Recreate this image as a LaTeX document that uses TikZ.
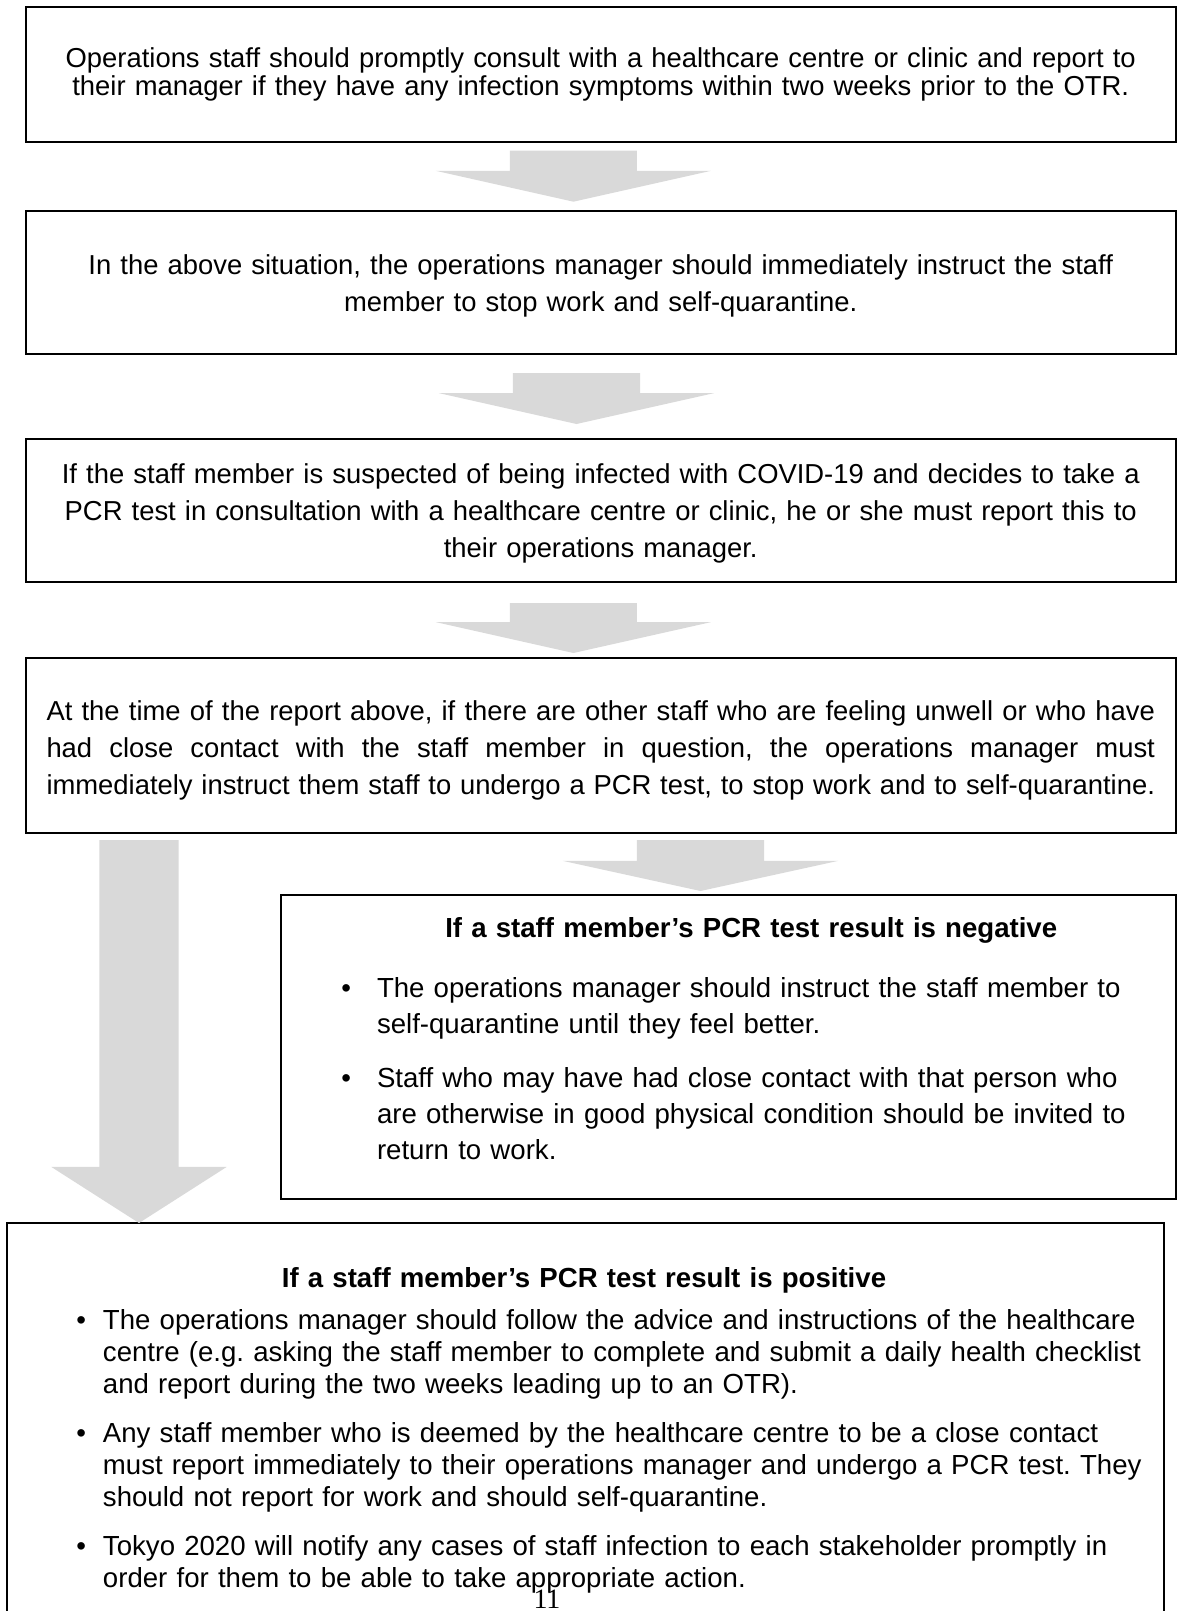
\documentclass[tikz,border=0pt]{standalone}
\usepackage{fontspec}
\setmainfont{Liberation Sans}
\newfontfamily\pagenofont{Liberation Serif}
\usetikzlibrary{shapes,arrows,positioning}
\frenchspacing
\definecolor{flowcol}{HTML}{D9D9D9}
\definecolor{framecol}{HTML}{000000}
\newcommand{\justline}[1]{\leavevmode\hbox to 1108.5pt{\spaceskip=0.278em plus 0.6em minus 0.1em\relax #1}}
\tikzstyle{flowarrow} = [single arrow, fill=flowcol, rotate=-90, anchor=tail, inner xsep=0pt, outer sep=0pt, minimum width=0pt, single arrow head indent=0pt]
\tikzstyle{pageno} = [font=\pagenofont\fontsize{28}{28}\selectfont, inner sep=0pt]
\tikzset{
  stepbox/.style = {
    shape = rectangle,
    draw = framecol,
    line width = 2pt,
    inner sep = 0pt,
    outer sep = 0pt,
    font = \fontsize{27.4}{37}\selectfont,
    },
  plainstep/.style = {
    stepbox,
    text width = 1149.5pt,
    align = center,
    },
  resultbox/.style = {
    stepbox,
    anchor = north west,
    font = \fontsize{27.6}{#1}\selectfont,
    },
}

\begin{document}
\begin{tikzpicture}[x=1pt,y=-1pt]
    \useasboundingbox (0,0) rectangle (1177,1611);

    % steps
    \node[plainstep, font=\fontsize{27.4}{28.5}\selectfont, text height=60pt, text depth=75pt, anchor=north west] (symptoms) at (26,7)
        {Operations staff should promptly consult with a healthcare centre or clinic and report to\\
         their manager if they have any infection symptoms within two weeks prior to the OTR.};
    \node[plainstep, text height=63.5pt, text depth=80pt, below=68.5pt of symptoms] (quarantine)
        {In the above situation, the operations manager should immediately instruct the staff\\
         member to stop work and self-quarantine.};
    \node[plainstep, text height=44.7pt, text depth=98.7pt, below=84.6pt of quarantine] (pcrtest)
        {If the staff member is suspected of being infected with COVID-19 and decides to take a\\
         PCR test in consultation with a healthcare centre or clinic, he or she must report this to\\
         their operations manager.};
    \node[stepbox, inner xsep=20.5pt, text width=1108.5pt, text height=62pt, text depth=113pt, below=76pt of pcrtest] (contacts)
        {\justline{At the time of the report above, if there are other staff who are feeling unwell or who have}\\
         \justline{had close contact with the staff member in question, the operations manager must}\\
         \justline{immediately instruct them staff to undergo a PCR test, to stop work and to self-quarantine.}\par};

    % results
    \node[resultbox=36, text width=895pt, text height=42pt, text depth=262pt, below=62pt of contacts.south east, anchor=north east] (negative) {%
        \leftskip=96.5pt \rightskip=0pt plus 1fil
        \hfill\textbf{If a staff member’s PCR test result is negative}\hfill\hspace*{50pt}\null\\[24pt]
        \leavevmode\llap{\textbullet\hskip 26pt}The operations manager should instruct the staff member to\\
        self-quarantine until they feel better.\\[18pt]
        \leavevmode\llap{\textbullet\hskip 26pt}Staff who may have had close contact with that person who\\
        are otherwise in good physical condition should be invited to\\
        return to work.\par};
    \node[resultbox=32, text width=1157pt, text height=64pt, text depth=450pt] (positive) at (7,1223) {%
        \leftskip=96pt \rightskip=0pt plus 1fil
        \hfill\textbf{If a staff member’s PCR test result is positive}\hfill\hspace*{99pt}\null\\[10pt]
        \leavevmode\llap{\textbullet\hskip 17pt}The operations manager should follow the advice and instructions of the healthcare\\
        centre (e.g. asking the staff member to complete and submit a daily health checklist\\
        and report during the two weeks leading up to an OTR).\\[17pt]
        \leavevmode\llap{\textbullet\hskip 17pt}Any staff member who is deemed by the healthcare centre to be a close contact\\
        must report immediately to their operations manager and undergo a PCR test. They\\
        should not report for work and should self-quarantine.\\[17pt]
        \leavevmode\llap{\textbullet\hskip 17pt}Tokyo 2020 will notify any cases of staff infection to each stakeholder promptly in\\
        order for them to be able to take appropriate action.\par};

    % arrows
    \node[flowarrow, inner ysep=63.35pt, minimum height=51pt, single arrow head extend=74pt, single arrow tip angle=154.7]
        (a1) at ([xshift=-27.35pt,yshift=-8.7pt]symptoms.south) {};
    \node[flowarrow, inner ysep=63.35pt, minimum height=51pt, single arrow head extend=74pt, single arrow tip angle=154.7]
        (a2) at ([xshift=-24.25pt,yshift=-19pt]quarantine.south) {};
    \node[flowarrow, inner ysep=63.35pt, minimum height=50pt, single arrow head extend=74pt, single arrow tip angle=154.7]
        (a3) at ([xshift=-27.35pt,yshift=-21pt]pcrtest.south) {};
    \node[flowarrow, inner ysep=39.5pt, minimum height=383pt, single arrow head extend=48pt, single arrow tip angle=114.8]
        (a4) at ([xshift=113pt,yshift=-7pt]contacts.south west) {};
    \node[flowarrow, inner ysep=63.35pt, minimum height=51pt, single arrow head extend=74pt, single arrow tip angle=155.3]
        (a5) at ([xshift=99.75pt,yshift=-7pt]contacts.south) {};

    \node[pageno, anchor=base] (pagenum) at (547,1608) {11};
\end{tikzpicture}
\end{document}
